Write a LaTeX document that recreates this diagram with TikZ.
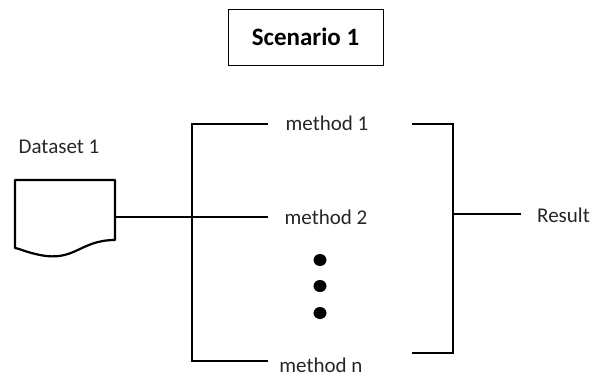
\documentclass[tikz,border=0pt]{standalone}
\usepackage{fontspec}
\setmainfont{Carlito}
\begin{document}
\begin{tikzpicture}[x=1pt,y=-1pt,
  line/.style={line width=2.2pt,line cap=rect},
  lbl/.style={inner sep=0pt,font=\fontsize{21}{24}\selectfont,text=black!85},
  dot/.style={fill=black,draw=none}]
\useasboundingbox (0,0) rectangle (595,376);

% title
\node[draw,line width=1pt,minimum width=155pt,minimum height=56pt,inner sep=0pt,
      font=\fontsize{25}{28}\selectfont\bfseries] (title) at (305.5,37) {Scenario 1};

% dataset document shape
\node[lbl] (dslabel) at (59,147) {Dataset 1};
\draw[line width=2.2pt,line join=round] (15,180) -- (115,180) -- (115,240)
  .. controls (80,240) and (75,262) .. (40,255)
  .. controls (25,252) and (18,248) .. (15,248) -- cycle;
\coordinate (ds) at (115,217);

% fan-out bracket
\coordinate (lt) at (192,124);
\coordinate (lm) at (192,217);
\coordinate (lb) at (192,361);
\coordinate (m1end) at (267,124);
\coordinate (m2end) at (267,217);
\coordinate (mnend) at (267,361);
\draw[line] (m1end) -- (lt) -- (lb) -- (mnend);
\draw[line] (ds) -- (lm) -- (m2end);

% methods
\node[lbl] (m1) at (327,123) {method 1};
\node[lbl] (m2) at (326,217) {method 2};
\node[lbl] (mn) at (321,365) {method n};
\fill[dot] (320,260) ellipse (6.5pt and 6pt);
\fill[dot] (320,286) ellipse (6.5pt and 6pt);
\fill[dot] (320,313) ellipse (6.5pt and 6pt);

% fan-in bracket
\coordinate (rt0) at (413,124);
\coordinate (rt) at (453,124);
\coordinate (rm) at (453,214);
\coordinate (rb) at (453,353);
\coordinate (rb0) at (413,353);
\coordinate (resend) at (520,214);
\draw[line] (rt0) -- (rt) -- (rb) -- (rb0);
\draw[line] (rm) -- (resend);
\node[lbl,anchor=west] (res) at (537,215) {Result};
\end{tikzpicture}
\end{document}
